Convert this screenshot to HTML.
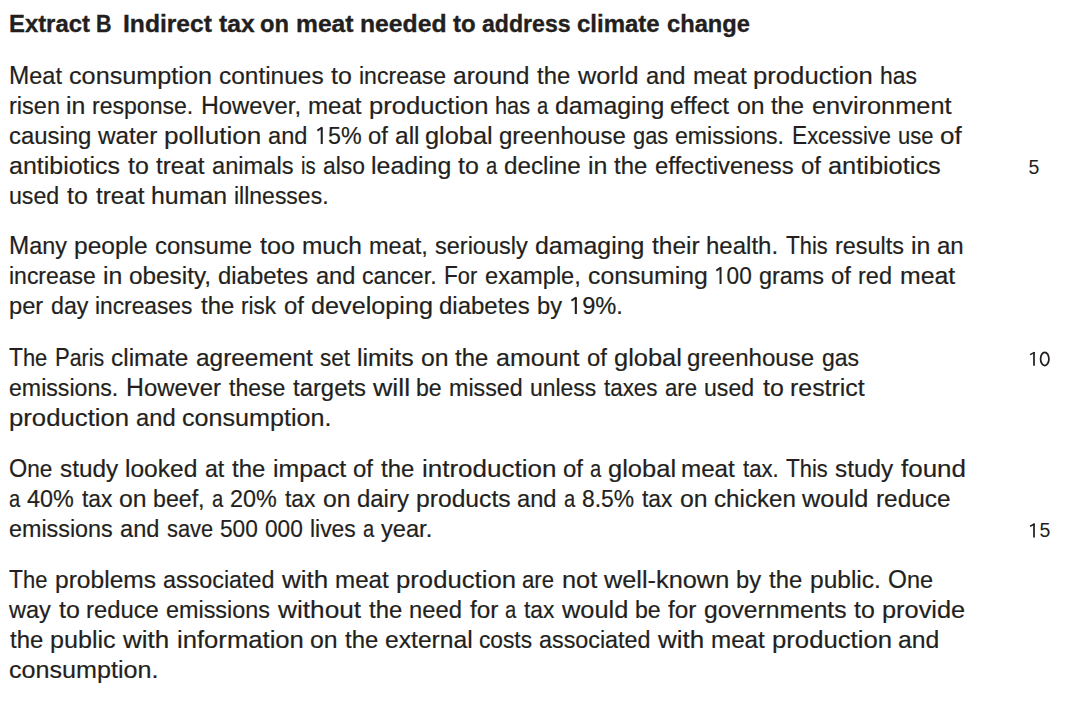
<!DOCTYPE html>
<html><head><meta charset="utf-8"><style>
html,body{margin:0;padding:0;background:#fff;}
body{width:1080px;height:706px;position:relative;overflow:hidden;font-family:"Liberation Sans",sans-serif;color:#231f20;}
div{position:absolute;white-space:pre;}
.p{font-size:24.2px;line-height:30px;height:30px;}
.p span{position:absolute;top:0;transform-origin:0 0;-webkit-text-stroke:0.2px #231f20;}
.p b{font-weight:normal;font-size:25.1px;line-height:0;}
.t{font-weight:bold;font-size:24px;line-height:30px;height:30px;}
.t span{position:absolute;top:0;transform-origin:0 0;-webkit-text-stroke:0.35px #231f20;}
.n{font-size:19.5px;line-height:30px;}
</style></head><body>
<div class="t" style="left:0;top:8.70px;width:1080px"><span style="left:9.20px;transform:scaleX(0.9940)">Extract</span><span style="left:96.06px;transform:scaleX(0.8950)">B</span><span style="left:123.05px;transform:scaleX(1.0261)">Indirect</span><span style="left:218.50px;transform:scaleX(1.0257)">tax</span><span style="left:260.27px;transform:scaleX(0.9890)">on</span><span style="left:295.88px;transform:scaleX(1.0267)">meat</span><span style="left:360.07px;transform:scaleX(1.0301)">needed</span><span style="left:452.71px;transform:scaleX(0.9989)">to</span><span style="left:482.32px;transform:scaleX(0.9627)">address</span><span style="left:577.06px;transform:scaleX(0.9993)">climate</span><span style="left:666.77px;transform:scaleX(0.9870)">change</span></div>
<div class="p" style="left:9.00px;top:60.50px;width:1000px"><span style="left:0.07px;transform:scaleX(0.9701)"><b>M</b>eat</span><span style="left:60.17px;transform:scaleX(1.0424)">consumption</span><span style="left:209.51px;transform:scaleX(1.0102)">continues</span><span style="left:322.19px;transform:scaleX(1.0301)">to</span><span style="left:349.58px;transform:scaleX(0.9531)">increase</span><span style="left:443.98px;transform:scaleX(1.0142)">around</span><span style="left:528.45px;transform:scaleX(0.9870)">the</span><span style="left:568.91px;transform:scaleX(1.0468)">world</span><span style="left:636.71px;transform:scaleX(0.9789)">and</span><span style="left:683.54px;transform:scaleX(0.9982)">meat</span><span style="left:744.43px;transform:scaleX(1.0613)">production</span><span style="left:870.67px;transform:scaleX(0.9483)">has</span></div>
<div class="p" style="left:9.00px;top:90.50px;width:1000px"><span style="left:0.03px;transform:scaleX(0.9722)">risen</span><span style="left:57.39px;transform:scaleX(1.0277)">in</span><span style="left:83.11px;transform:scaleX(0.9530)">response.</span><span style="left:191.63px;transform:scaleX(0.9856)"><b>H</b>owever,</span><span style="left:298.95px;transform:scaleX(0.9956)">meat</span><span style="left:359.69px;transform:scaleX(1.0586)">production</span><span style="left:485.67px;transform:scaleX(0.8993)">has</span><span style="left:528.06px;transform:scaleX(0.8301)">a</span><span style="left:545.84px;transform:scaleX(1.0286)">damaging</span><span style="left:661.28px;transform:scaleX(1.0072)">effect</span><span style="left:727.65px;transform:scaleX(1.0234)">on</span><span style="left:762.34px;transform:scaleX(0.9842)">the</span><span style="left:802.70px;transform:scaleX(1.0488)">environment</span></div>
<div class="p" style="left:9.00px;top:120.50px;width:1000px"><span style="left:0.01px;transform:scaleX(0.9882)">causing</span><span style="left:88.51px;transform:scaleX(1.0055)">water</span><span style="left:155.20px;transform:scaleX(1.0792)">pollution</span><span style="left:258.80px;transform:scaleX(0.9761)">and</span><span style="left:305.54px;transform:scaleX(0.9624)"><svg width="13.459" height="18" viewBox="0 0 13.459 18" style="vertical-align:baseline" fill="none" stroke="currentColor"><path d="M7 1.2V18" stroke-width="2.15"/><path d="M7.3 1.5L2.5 4.6" stroke-width="1.9"/></svg>5%</span><span style="left:359.43px;transform:scaleX(0.9845)">of</span><span style="left:386.46px;transform:scaleX(1.0147)">all</span><span style="left:416.49px;transform:scaleX(1.0490)">global</span><span style="left:489.71px;transform:scaleX(0.9927)">greenhouse</span><span style="left:623.83px;transform:scaleX(0.9026)">gas</span><span style="left:666.27px;transform:scaleX(0.9538)">emissions.</span><span style="left:782.53px;transform:scaleX(0.9037)"><b>E</b>xcessive</span><span style="left:888.77px;transform:scaleX(0.9089)">use</span><span style="left:931.45px;transform:scaleX(1.0731)">of</span></div>
<div class="p" style="left:9.00px;top:150.50px;width:1000px"><span style="left:0.02px;transform:scaleX(1.0323)">antibiotics</span><span style="left:119.14px;transform:scaleX(1.0317)">to</span><span style="left:147.36px;transform:scaleX(1.0008)">treat</span><span style="left:203.03px;transform:scaleX(0.9773)">animals</span><span style="left:291.88px;transform:scaleX(0.8389)">is</span><span style="left:313.53px;transform:scaleX(0.9450)">also</span><span style="left:362.00px;transform:scaleX(1.0293)">leading</span><span style="left:449.27px;transform:scaleX(1.0317)">to</span><span style="left:476.76px;transform:scaleX(0.8334)">a</span><span style="left:494.64px;transform:scaleX(1.0019)">decline</span><span style="left:578.76px;transform:scaleX(1.0320)">in</span><span style="left:605.39px;transform:scaleX(0.9884)">the</span><span style="left:645.92px;transform:scaleX(0.9848)">effectiveness</span><span style="left:791.86px;transform:scaleX(0.9890)">of</span><span style="left:819.00px;transform:scaleX(1.0484)">antibiotics</span></div>
<div class="p" style="left:9.00px;top:180.50px;width:1000px"><span style="left:0.05px;transform:scaleX(0.9567)">used</span><span style="left:58.33px;transform:scaleX(1.0314)">to</span><span style="left:86.54px;transform:scaleX(1.0005)">treat</span><span style="left:142.20px;transform:scaleX(1.0287)">human</span><span style="left:224.62px;transform:scaleX(0.9501)">illnesses.</span></div>
<div class="p" style="left:9.00px;top:231.20px;width:1000px"><span style="left:0.06px;transform:scaleX(0.9661)"><b>M</b>any</span><span style="left:65.16px;transform:scaleX(1.0142)">people</span><span style="left:146.09px;transform:scaleX(0.9897)">consume</span><span style="left:251.29px;transform:scaleX(1.0402)">too</span><span style="left:292.86px;transform:scaleX(1.0108)">much</span><span style="left:359.94px;transform:scaleX(0.9740)">meat,</span><span style="left:426.14px;transform:scaleX(0.9713)">seriously</span><span style="left:526.07px;transform:scaleX(1.0305)">damaging</span><span style="left:642.50px;transform:scaleX(1.0137)">their</span><span style="left:697.46px;transform:scaleX(0.9934)">health.</span><span style="left:776.88px;transform:scaleX(0.9001)"><b>T</b>his</span><span style="left:825.77px;transform:scaleX(0.9664)">results</span><span style="left:901.93px;transform:scaleX(1.0297)">in</span><span style="left:927.68px;transform:scaleX(0.9940)">an</span></div>
<div class="p" style="left:9.00px;top:261.20px;width:1000px"><span style="left:0.03px;transform:scaleX(0.9499)">increase</span><span style="left:94.19px;transform:scaleX(1.0270)">in</span><span style="left:119.89px;transform:scaleX(1.0059)">obesity,</span><span style="left:209.20px;transform:scaleX(0.9876)">diabetes</span><span style="left:306.78px;transform:scaleX(0.9756)">and</span><span style="left:353.43px;transform:scaleX(0.9564)">cancer.</span><span style="left:435.36px;transform:scaleX(0.9026)"><b>F</b>or</span><span style="left:475.81px;transform:scaleX(0.9763)">example,</span><span style="left:578.88px;transform:scaleX(1.0243)">consuming</span><span style="left:704.94px;transform:scaleX(0.9350)"><svg width="13.459" height="18" viewBox="0 0 13.459 18" style="vertical-align:baseline" fill="none" stroke="currentColor"><path d="M7 1.2V18" stroke-width="2.15"/><path d="M7.3 1.5L2.5 4.6" stroke-width="1.9"/></svg>00</span><span style="left:749.92px;transform:scaleX(0.9685)">grams</span><span style="left:822.31px;transform:scaleX(0.9840)">of</span><span style="left:849.41px;transform:scaleX(0.9709)">red</span><span style="left:890.61px;transform:scaleX(1.0276)">meat</span></div>
<div class="p" style="left:9.00px;top:291.20px;width:1000px"><span style="left:0.08px;transform:scaleX(0.9800)">per</span><span style="left:41.60px;transform:scaleX(0.9593)">day</span><span style="left:86.23px;transform:scaleX(0.9407)">increases</span><span style="left:191.68px;transform:scaleX(0.9871)">the</span><span style="left:232.22px;transform:scaleX(0.9314)">risk</span><span style="left:274.54px;transform:scaleX(0.9876)">of</span><span style="left:301.65px;transform:scaleX(1.0424)">developing</span><span style="left:429.78px;transform:scaleX(0.9909)">diabetes</span><span style="left:527.76px;transform:scaleX(0.9799)">by</span><span style="left:559.98px;transform:scaleX(0.9776)"><svg width="13.459" height="18" viewBox="0 0 13.459 18" style="vertical-align:baseline" fill="none" stroke="currentColor"><path d="M7 1.2V18" stroke-width="2.15"/><path d="M7.3 1.5L2.5 4.6" stroke-width="1.9"/></svg>9%.</span></div>
<div class="p" style="left:9.00px;top:342.50px;width:1000px"><span style="left:0.02px;transform:scaleX(0.9069)"><b>T</b>he</span><span style="left:45.63px;transform:scaleX(0.8806)"><b>P</b>aris</span><span style="left:101.93px;transform:scaleX(1.0097)">climate</span><span style="left:186.54px;transform:scaleX(1.0094)">agreement</span><span style="left:310.55px;transform:scaleX(0.9278)">set</span><span style="left:347.73px;transform:scaleX(1.0286)">limits</span><span style="left:411.65px;transform:scaleX(1.0258)">on</span><span style="left:446.42px;transform:scaleX(0.9866)">the</span><span style="left:486.89px;transform:scaleX(1.0346)">amount</span><span style="left:577.66px;transform:scaleX(0.9871)">of</span><span style="left:604.76px;transform:scaleX(1.0515)">global</span><span style="left:678.16px;transform:scaleX(0.9951)">greenhouse</span><span style="left:812.55px;transform:scaleX(0.9507)">gas</span></div>
<div class="p" style="left:9.00px;top:372.50px;width:1000px"><span style="left:0.02px;transform:scaleX(0.9562)">emissions.</span><span style="left:116.57px;transform:scaleX(0.9880)"><b>H</b>owever</span><span style="left:219.55px;transform:scaleX(0.9527)">these</span><span style="left:283.98px;transform:scaleX(0.9869)">targets</span><span style="left:364.20px;transform:scaleX(1.1077)">will</span><span style="left:407.01px;transform:scaleX(0.9561)">be</span><span style="left:440.03px;transform:scaleX(0.9619)">missed</span><span style="left:521.01px;transform:scaleX(0.9472)">unless</span><span style="left:595.29px;transform:scaleX(0.9256)">taxes</span><span style="left:656.09px;transform:scaleX(0.9151)">are</span><span style="left:695.38px;transform:scaleX(0.9553)">used</span><span style="left:753.58px;transform:scaleX(1.0298)">to</span><span style="left:780.93px;transform:scaleX(1.0294)">restrict</span></div>
<div class="p" style="left:9.00px;top:402.50px;width:1000px"><span style="left:0.01px;transform:scaleX(1.0635)">production</span><span style="left:126.54px;transform:scaleX(0.9809)">and</span><span style="left:173.41px;transform:scaleX(1.0386)">consumption.</span></div>
<div class="p" style="left:9.00px;top:453.50px;width:1000px"><span style="left:0.05px;transform:scaleX(0.9339)"><b>O</b>ne</span><span style="left:50.67px;transform:scaleX(1.0051)">study</span><span style="left:116.03px;transform:scaleX(1.0158)">looked</span><span style="left:195.79px;transform:scaleX(0.9529)">at</span><span style="left:223.05px;transform:scaleX(0.9893)">the</span><span style="left:263.65px;transform:scaleX(1.0277)">impact</span><span style="left:344.18px;transform:scaleX(0.9898)">of</span><span style="left:372.17px;transform:scaleX(0.9893)">the</span><span style="left:412.73px;transform:scaleX(1.0748)">introduction</span><span style="left:553.59px;transform:scaleX(0.9898)">of</span><span style="left:580.85px;transform:scaleX(0.8341)">a</span><span style="left:598.72px;transform:scaleX(1.0541)">global</span><span style="left:672.34px;transform:scaleX(1.0005)">meat</span><span style="left:734.19px;transform:scaleX(0.9153)">tax.</span><span style="left:777.25px;transform:scaleX(0.9029)"><b>T</b>his</span><span style="left:826.27px;transform:scaleX(1.0051)">study</span><span style="left:891.59px;transform:scaleX(1.0730)">found</span></div>
<div class="p" style="left:9.00px;top:483.50px;width:1000px"><span style="left:0.10px;transform:scaleX(0.8318)">a</span><span style="left:17.93px;transform:scaleX(0.9660)">40%</span><span style="left:72.75px;transform:scaleX(0.9411)">tax</span><span style="left:110.36px;transform:scaleX(1.0255)">on</span><span style="left:144.34px;transform:scaleX(0.9585)">beef,</span><span style="left:203.27px;transform:scaleX(0.8318)">a</span><span style="left:221.13px;transform:scaleX(0.9655)">20%</span><span style="left:275.93px;transform:scaleX(0.9411)">tax</span><span style="left:313.53px;transform:scaleX(1.0255)">on</span><span style="left:347.50px;transform:scaleX(0.9893)">dairy</span><span style="left:406.59px;transform:scaleX(1.0196)">products</span><span style="left:508.46px;transform:scaleX(0.9783)">and</span><span style="left:555.30px;transform:scaleX(0.8318)">a</span><span style="left:573.15px;transform:scaleX(0.9450)">8.5%</span><span style="left:633.30px;transform:scaleX(0.9411)">tax</span><span style="left:670.90px;transform:scaleX(1.0255)">on</span><span style="left:704.84px;transform:scaleX(0.9995)">chicken</span><span style="left:793.14px;transform:scaleX(1.0483)">would</span><span style="left:866.64px;transform:scaleX(1.0086)">reduce</span></div>
<div class="p" style="left:9.00px;top:513.50px;width:1000px"><span style="left:0.02px;transform:scaleX(0.9645)">emissions</span><span style="left:111.01px;transform:scaleX(0.9765)">and</span><span style="left:157.69px;transform:scaleX(0.9030)">save</span><span style="left:211.09px;transform:scaleX(0.9377)">500</span><span style="left:256.20px;transform:scaleX(0.9378)">000</span><span style="left:301.33px;transform:scaleX(0.9464)">lives</span><span style="left:354.43px;transform:scaleX(0.8303)">a</span><span style="left:372.22px;transform:scaleX(0.9762)">year.</span></div>
<div class="p" style="left:9.00px;top:565.30px;width:1000px"><span style="left:0.02px;transform:scaleX(0.9079)"><b>T</b>he</span><span style="left:45.63px;transform:scaleX(1.0160)">problems</span><span style="left:153.96px;transform:scaleX(0.9638)">associated</span><span style="left:272.67px;transform:scaleX(1.0734)">with</span><span style="left:326.16px;transform:scaleX(0.9989)">meat</span><span style="left:387.10px;transform:scaleX(1.0620)">production</span><span style="left:513.46px;transform:scaleX(0.9160)">are</span><span style="left:552.82px;transform:scaleX(1.0488)">not</span><span style="left:595.29px;transform:scaleX(1.0466)">well-known</span><span style="left:726.97px;transform:scaleX(0.9804)">by</span><span style="left:760.04px;transform:scaleX(0.9876)">the</span><span style="left:800.57px;transform:scaleX(1.0137)">public.</span><span style="left:878.72px;transform:scaleX(0.9708)"><b>O</b>ne</span></div>
<div class="p" style="left:9.00px;top:595.30px;width:1000px"><span style="left:-0.00px;transform:scaleX(0.9739)">way</span><span style="left:49.92px;transform:scaleX(1.0301)">to</span><span style="left:77.32px;transform:scaleX(0.9854)">reduce</span><span style="left:157.45px;transform:scaleX(0.9667)">emissions</span><span style="left:268.65px;transform:scaleX(1.0847)">without</span><span style="left:359.83px;transform:scaleX(0.9870)">the</span><span style="left:400.35px;transform:scaleX(0.9837)">need</span><span style="left:460.56px;transform:scaleX(1.0061)">for</span><span style="left:496.27px;transform:scaleX(0.8323)">a</span><span style="left:514.92px;transform:scaleX(0.9417)">tax</span><span style="left:552.51px;transform:scaleX(1.0489)">would</span><span style="left:626.17px;transform:scaleX(0.9564)">be</span><span style="left:659.18px;transform:scaleX(1.0061)">for</span><span style="left:694.81px;transform:scaleX(1.0193)">governments</span><span style="left:845.42px;transform:scaleX(1.0301)">to</span><span style="left:872.79px;transform:scaleX(1.0492)">provide</span></div>
<div class="p" style="left:9.00px;top:625.30px;width:1000px"><span style="left:0.83px;transform:scaleX(0.9881)">the</span><span style="left:41.38px;transform:scaleX(1.0379)">public</span><span style="left:114.20px;transform:scaleX(1.0738)">with</span><span style="left:167.67px;transform:scaleX(1.0602)">information</span><span style="left:300.92px;transform:scaleX(1.0273)">on</span><span style="left:335.74px;transform:scaleX(0.9881)">the</span><span style="left:376.24px;transform:scaleX(1.0196)">external</span><span style="left:469.54px;transform:scaleX(0.9391)">costs</span><span style="left:529.81px;transform:scaleX(0.9642)">associated</span><span style="left:648.57px;transform:scaleX(1.0738)">with</span><span style="left:702.08px;transform:scaleX(0.9994)">meat</span><span style="left:763.04px;transform:scaleX(1.0625)">production</span><span style="left:889.41px;transform:scaleX(1.0249)">and</span></div>
<div class="p" style="left:9.00px;top:655.30px;width:1000px"><span style="left:0.00px;transform:scaleX(1.0387)">consumption.</span></div>
<svg width="60" height="706" viewBox="1020 0 60 706" style="position:absolute;left:1020px;top:0" fill="none" stroke="#231f20"><path d="M1034.00 351.90V365.80" stroke-width="1.75"/><path d="M1034.60 352.40L1030.10 354.60" stroke-width="1.6" stroke-linecap="butt"/><ellipse cx="1044.75" cy="358.95" rx="4.15" ry="6.55" stroke-width="1.75"/><path d="M1034.00 523.50V537.40" stroke-width="1.75"/><path d="M1034.60 524.00L1030.10 526.20" stroke-width="1.6" stroke-linecap="butt"/></svg>
<div class="n" style="left:1028.60px;top:151.60px;transform:scaleX(1.000);transform-origin:0 0">5</div>
<div class="n" style="left:1039.50px;top:515.40px;transform:scaleX(1.000);transform-origin:0 0">5</div>
</body></html>
